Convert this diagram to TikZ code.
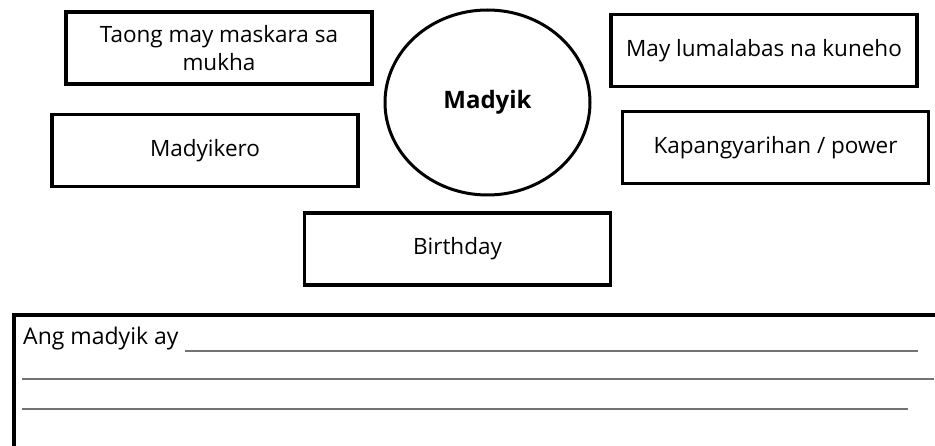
\documentclass[tikz,border=0pt]{standalone}
\usepackage{fontspec}
\setmainfont{Open Sans}
\usetikzlibrary{shapes.geometric}
\tikzset{
  kahon/.style={draw,line width=3.4pt,minimum width=306pt,minimum height=72pt,
    align=center,font=\fontsize{22.5}{28}\selectfont},
  linya/.style={black!55,line width=1.4pt}
}
\begin{document}
\begin{tikzpicture}[x=1pt,y=-1pt]
                \useasboundingbox (0,0) rectangle (935,446);
                \clip (0,0) rectangle (935,446);
                % mga kahon sa paligid ng bilog
                \node[kahon] (taong) at (219,48) {Taong may maskara sa\\mukha};
                \node[kahon] (madyikero) at (205,150.5) {Madyikero};
                \node[draw,ellipse,line width=3pt,minimum width=205pt,minimum height=185pt,
                    font=\fontsize{24}{28}\selectfont\bfseries] (madyik) at (487.5,102.5) {Madyik};
                \node[kahon] (birthday) at (457.5,249) {Birthday};
                \node[kahon] (kuneho) at (764,50.5) {May lumalabas na kuneho};
                \node[kahon] (power) at (775.5,147.5) {Kapangyarihan / power};
                % sagutan sa ibaba
                \node[draw,line width=4pt,minimum width=940pt,minimum height=134pt,anchor=north west]
                    (sagot) at (12,313) {};
                \node[anchor=base west,inner sep=0pt,font=\fontsize{23}{26}\selectfont] (ang) at (23,345) {Ang madyik ay};
                \coordinate (l1a) at (185,351);
                \coordinate (l1b) at (918,351);
                \coordinate (l2a) at (22,379);
                \coordinate (l2b) at (934,379);
                \coordinate (l3a) at (22,409);
                \coordinate (l3b) at (908,409);
                \draw[linya] (l1a) -- (l1b);
                \draw[linya] (l2a) -- (l2b);
                \draw[linya] (l3a) -- (l3b);
            \end{tikzpicture}
\end{document}
